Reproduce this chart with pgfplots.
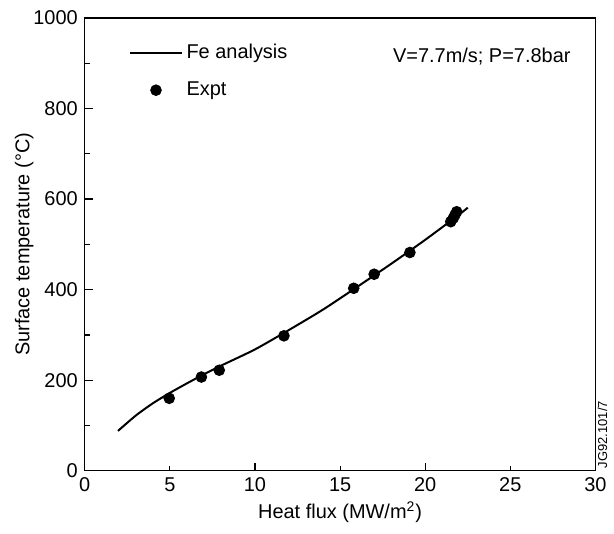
\documentclass[border=0pt]{standalone}
\usepackage{pgfplots}
\pgfplotsset{compat=1.18}
\usepackage{fontspec}
\setmainfont{Liberation Sans}
\begin{document}
\begin{tikzpicture}
\begin{axis}[
  at={(0,0)}, anchor=south west,
  scale only axis, width=256pt, height=227pt,
  clip=false,
  xmin=0, xmax=30, ymin=0, ymax=1000,
  xtick={0,10,20,30},
  extra x ticks={5,15,25},
  extra x tick style={major tick length=2.5pt},
  ytick={0,200,400,600,800,1000},
  minor ytick={100,300,500,700,900},
  major tick length=4pt, minor tick length=2.5pt,
  tick align=inside,
  xtick pos=bottom, ytick pos=left,
  tick style={black, line width=0.6pt},
  axis line style={line width=0.6pt},
  /pgf/number format/assume math mode=true,
  /pgf/number format/1000 sep={},
  ticklabel style={font=\fontsize{10}{12}\selectfont},
  label style={font=\fontsize{10}{12}\selectfont},
  xlabel={Heat flux (MW/m\textsuperscript{2})},
  ylabel={Surface temperature (\textdegree C)},
  xlabel style={yshift=2pt},
  ylabel style={yshift=-7pt},
  legend style={at={(rel axis cs:0.075,0.96)}, anchor=north west, draw=none, fill=none,
    font=\fontsize{10}{12}\selectfont, row sep=6pt},
  legend cell align=left,
  legend image code/.code={\draw[#1] (0cm,0cm) -- (0.9cm,0cm);},
]
\addplot[black, line width=1pt, smooth, tension=0.4] coordinates {
  (1.95,88) (3,122) (4,149) (5,172) (6,193) (7,213) (8,232) (10,268)
  (12,311) (14,356) (16,406) (18,457) (20,510) (22,566) (22.5,581)
};
\addlegendentry{Fe analysis}
\addplot[only marks, mark=*, mark size=2.7pt, black,
  legend image code/.code={\fill[black] (0.45cm,0cm) circle (2.7pt);}] coordinates {
  (4.96,160) (6.85,207) (7.9,222) (11.7,298) (15.8,403) (17.0,434)
  (19.1,482) (21.5,550) (21.65,558) (21.75,565) (21.85,572)
};
\addlegendentry{Expt}
\node[anchor=east, font=\fontsize{10}{12}\selectfont] at (rel axis cs:0.965,0.915) {V=7.7m/s; P=7.8bar};
\node[rotate=90, font=\fontsize{6.5}{8}\selectfont] at (rel axis cs:1.014,0.08) {JG92.101/7};
\end{axis}
\path[use as bounding box] (-42.5pt,-31.5pt) rectangle (264.5pt,236pt);
\end{tikzpicture}
\end{document}
